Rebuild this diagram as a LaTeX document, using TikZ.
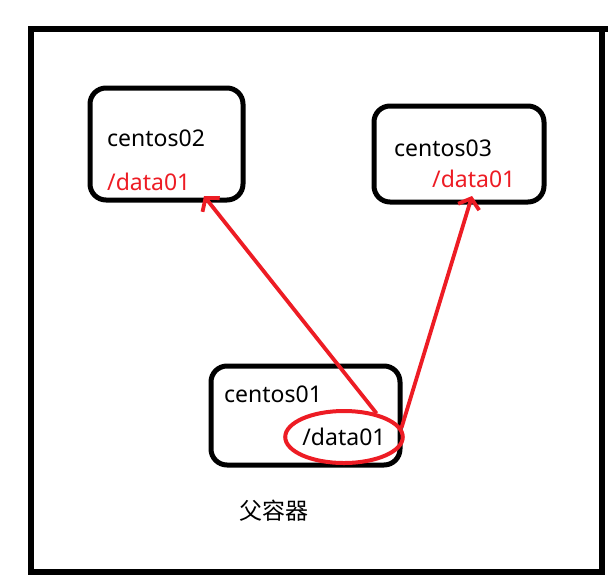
\documentclass[tikz,border=0pt]{standalone}
\usepackage{fontspec}
\setmainfont{Noto Sans}
\newfontfamily\cjk{Noto Sans CJK SC}
\usetikzlibrary{arrows.meta,shapes.geometric}
\definecolor{pred}{RGB}{237,28,36}
\begin{document}
\begin{tikzpicture}[x=1pt,y=-1pt,
  box/.style={draw=black,line width=5pt,rounded corners=16pt},
  lbl/.style={font=\fontsize{23}{27}\selectfont,inner sep=0pt,anchor=west},
  rlbl/.style={lbl,text=pred},
  link/.style={draw=pred,line width=3.8pt,-{Straight Barb[length=9pt,width=22pt,line width=3.8pt]}}]
\useasboundingbox (0,0) rectangle (608,582);
% outer container
\draw[line width=5.5pt] (608,29) -- (31,29) -- (31,572) -- (602,572) -- (602,29);
% boxes
\draw[box] (90,88) rectangle (243,200);
\draw[box] (374,106) rectangle (544,202);
\draw[box] (211,366) rectangle (400,465);
% texts
\node[lbl] (c2) at (107,138) {centos02};
\node[rlbl] (d2) at (107,182) {/data01};
\node[lbl] (c3) at (394,148) {centos03};
\node[rlbl] (d3) at (432,179) {/data01};
\node[lbl] (c1) at (224,394) {centos01};
\node[draw=pred,line width=4pt,ellipse,minimum width=113pt,minimum height=52pt,inner sep=0pt,
  font=\fontsize{23}{27}\selectfont] (d1) at (344,437) {/data01};
\node[font=\cjk\fontsize{23}{27}\selectfont,inner sep=0pt] (p) at (274,511) {父容器};
% connectors
\coordinate (t2) at (204,196);
\coordinate (t3) at (472,196);
\draw[link] (d1.36) -- (t2);
\draw[link] (d1.9) -- (t3);
\end{tikzpicture}
\end{document}
